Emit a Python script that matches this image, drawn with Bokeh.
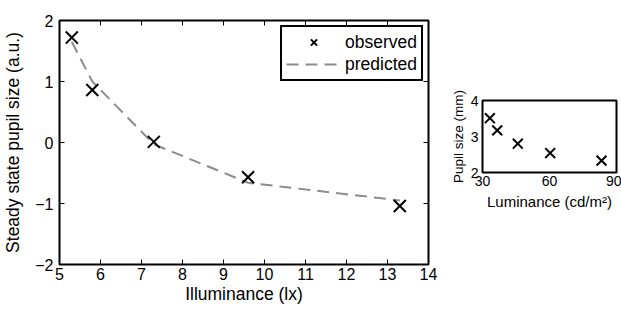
from bokeh.plotting import figure
from bokeh.models import Range1d, LinearAxis, Legend, LegendItem, FixedTicker, Spacer
from bokeh.layouts import row, column
from bokeh.embed import file_html
from bokeh.resources import INLINE

# ---- data (main panel) ----
illuminance = [5.3, 5.8, 7.3, 9.6, 13.3]
observed = [1.72, 0.86, 0.01, -0.57, -1.04]
predicted = [1.65, 1.0, -0.03, -0.66, -0.95]
x_ticks = [5, 6, 7, 8, 9, 10, 11, 12, 13, 14]
y_ticks = [-2, -1, 0, 1, 2]
y_tick_labels = ["\u22122", "\u22121", "0", "1", "2"]

# ---- data (inset) ----
luminance = [33.3, 36.6, 45.8, 60.3, 83.3]
pupil_mm = [3.51, 3.17, 2.80, 2.54, 2.33]
inset_x_ticks = [30, 60, 90]
inset_y_ticks = [2, 3, 4]

FONT = "Liberation Sans"
GREY = "#8c8c8c"


def style_axis(ax, size, ticks, labels=None, show_labels=True, tick_in=5):
    ax.ticker = FixedTicker(ticks=ticks)
    if labels is not None:
        ax.major_label_overrides = {t: l for t, l in zip(ticks, labels)}
    ax.axis_line_color = None
    ax.minor_tick_line_color = None
    ax.major_tick_in = tick_in
    ax.major_tick_out = 0
    ax.major_tick_line_color = "black" if tick_in > 0 else None
    ax.major_tick_line_width = 1
    ax.major_label_text_font = FONT
    ax.major_label_text_color = "black"
    ax.axis_label_text_font = FONT
    ax.axis_label_text_font_style = "normal"
    ax.axis_label_text_color = "black"
    if show_labels:
        ax.major_label_text_font_size = size
    else:
        ax.major_label_text_font_size = "0px"
        ax.major_label_standoff = 0


# ---------------- main figure ----------------
p = figure(width=440, height=306, output_backend="svg", toolbar_location=None,
           x_range=Range1d(5, 14), y_range=Range1d(-2, 2),
           min_border_left=59, min_border_top=20, min_border_bottom=40,
           min_border_right=12)
p.grid.visible = False
p.outline_line_color = "black"
p.outline_line_width = 2
p.outline_line_alpha = 1
p.background_fill_color = "white"
p.border_fill_color = "white"

style_axis(p.xaxis[0], "16px", x_ticks)
style_axis(p.yaxis[0], "16px", y_ticks, y_tick_labels)
p.xaxis[0].axis_label = "Illuminance (lx)"
p.yaxis[0].axis_label = "Steady state pupil size (a.u.)"
p.xaxis[0].axis_label_text_font_size = "17.5px"
p.yaxis[0].axis_label_text_font_size = "17.5px"
p.xaxis[0].major_label_standoff = 3
p.xaxis[0].axis_label_standoff = 1
p.yaxis[0].major_label_standoff = 6
p.yaxis[0].axis_label_standoff = 9

top_ax = LinearAxis()
right_ax = LinearAxis()
p.add_layout(top_ax, "above")
p.add_layout(right_ax, "right")
style_axis(top_ax, "0px", x_ticks, show_labels=False)
style_axis(right_ax, "0px", y_ticks, show_labels=False)

pred_r = p.line(illuminance, predicted, line_color=GREY, line_width=2,
                line_dash="12 7")
obs_r = p.scatter(illuminance, observed, marker="x", size=17,
                  line_color="black", line_width=2)

legend = Legend(items=[LegendItem(label="observed", renderers=[obs_r]),
                       LegendItem(label="predicted", renderers=[pred_r])],
                location="top_right")
legend.margin = 5
legend.padding = 4
legend.spacing = 0
legend.glyph_width = 55
legend.glyph_height = 22
legend.label_height = 22
legend.label_standoff = 4
legend.label_text_font = FONT
legend.label_text_font_size = "17.5px"
legend.label_text_color = "black"
legend.border_line_color = "black"
legend.border_line_alpha = 1
legend.border_line_width = 2
legend.background_fill_alpha = 1
p.add_layout(legend, "center")

# ---------------- inset figure ----------------
q = figure(width=181, height=152, output_backend="svg", toolbar_location=None,
           x_range=Range1d(30, 90), y_range=Range1d(2, 4),
           min_border_left=42, min_border_top=20, min_border_bottom=60,
           min_border_right=5)
q.grid.visible = False
q.outline_line_color = "black"
q.outline_line_width = 2
q.outline_line_alpha = 1
q.background_fill_color = "white"
q.border_fill_color = "white"

style_axis(q.xaxis[0], "14px", inset_x_ticks, tick_in=0)
style_axis(q.yaxis[0], "14px", inset_y_ticks, tick_in=0)
q.xaxis[0].axis_label = "Luminance (cd/m\u00b2)"
q.yaxis[0].axis_label = "Pupil size (mm)"
q.xaxis[0].axis_label_text_font_size = "15px"
q.yaxis[0].axis_label_text_font_size = "13.5px"
q.xaxis[0].major_label_standoff = 3
q.xaxis[0].axis_label_standoff = 4
q.yaxis[0].major_label_standoff = 4
q.yaxis[0].axis_label_standoff = 2

q.scatter(luminance, pupil_mm, marker="x", size=14, line_color="black",
          line_width=2)

right_col = column(Spacer(width=181, height=80), q)
layout = row(p, right_col)
open("out.html", "w").write(file_html(layout, INLINE))
